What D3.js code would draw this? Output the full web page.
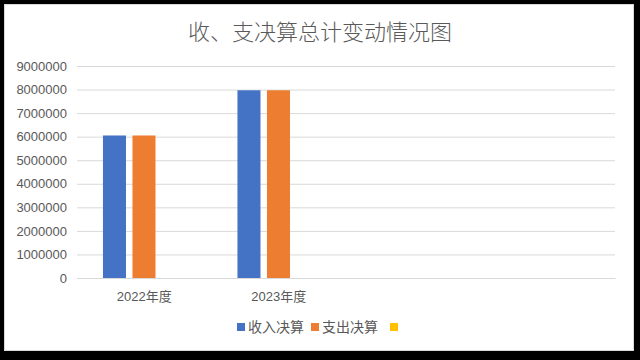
<!DOCTYPE html>
<html>
<head>
<meta charset="utf-8">
<script src="https://cdn.jsdelivr.net/npm/d3@7"></script>
<style>
html,body{margin:0;padding:0;background:#000;}
svg{display:block;}
text{font-family:"Liberation Sans","Noto Sans CJK SC",sans-serif;fill:#595959;}
</style>
</head>
<body>
<svg id="chart" width="640" height="360"></svg>
<script>
const title = "收、支决算总计变动情况图";
const categories = ["2022年度", "2023年度", "", ""];
const seriesNames = ["收入决算", "支出决算", ""];
const income = [6050000, 7970000, null, null];
const expense = [6050000, 7970000, null, null];
const third = [null, null, null, null];
const colors = ["#4472C4", "#ED7D31", "#FFC000"];
const yTicks = [0, 1000000, 2000000, 3000000, 4000000, 5000000, 6000000, 7000000, 8000000, 9000000];

const seriesValues = [income, expense, third];
const svg = d3.select("#chart");

// background frame
svg.append("rect").attr("x", 0).attr("y", 0).attr("width", 640).attr("height", 360).attr("fill", "#000");
svg.append("rect").attr("x", 4.5).attr("y", 4.5).attr("width", 629).attr("height", 346)
  .attr("fill", "#fff").attr("stroke", "#d9d9d9").attr("stroke-width", 1);

const plotL = 77, plotR = 615, plotT = 66, plotB = 278;

const x0 = d3.scaleBand().domain(d3.range(categories.length)).range([plotL, plotR]).padding(0);
const bw = x0.bandwidth();
const x1 = d3.scaleBand().domain(d3.range(seriesNames.length))
  .range([bw * 0.193, bw * 0.803]).paddingInner(0.22).paddingOuter(0);
const y = d3.scaleLinear().domain([0, 9000000]).range([plotB, plotT]);

// gridlines
const yAxis = d3.axisLeft(y).tickValues(yTicks).tickSize(-(plotR - plotL)).tickPadding(10).tickFormat(d3.format("d"));
const gy = svg.append("g").attr("transform", `translate(${plotL},0)`).call(yAxis);
gy.select(".domain").remove();
gy.selectAll(".tick line").attr("stroke", "#d9d9d9").attr("stroke-width", 1);
gy.selectAll(".tick text").attr("font-size", 13).attr("fill", "#595959").attr("x", -10);

// bars
seriesValues.forEach((vals, si) => {
  svg.append("g").selectAll("rect")
    .data(vals.map((v, i) => ({ v, i })).filter(d => d.v != null))
    .join("rect")
    .attr("x", d => x0(d.i) + x1(si))
    .attr("width", x1.bandwidth())
    .attr("y", d => y(d.v))
    .attr("height", d => y(0) - y(d.v))
    .attr("fill", colors[si]);
});

// x axis
const xAxis = d3.axisBottom(x0).tickSize(0).tickPadding(14).tickFormat(i => categories[i]);
const gx = svg.append("g").attr("transform", `translate(0,${plotB})`).call(xAxis);
gx.select(".domain").attr("stroke", "#d9d9d9");
gx.selectAll(".tick text").attr("font-size", 13).attr("fill", "#595959");

// title
svg.append("text").attr("x", 320).attr("y", 40).attr("text-anchor", "middle")
  .attr("font-size", 22).attr("font-weight", 300).attr("fill", "#595959").text(title);

// legend
const legendX = [237, 311, 390];
seriesNames.forEach((name, i) => {
  const g = svg.append("g").attr("transform", `translate(${legendX[i]},0)`);
  g.append("rect").attr("x", 0).attr("y", 323).attr("width", 8).attr("height", 8).attr("fill", colors[i]);
  g.append("text").attr("x", 11).attr("y", 332).attr("font-size", 14).attr("fill", "#595959").text(name);
});
</script>
</body>
</html>
